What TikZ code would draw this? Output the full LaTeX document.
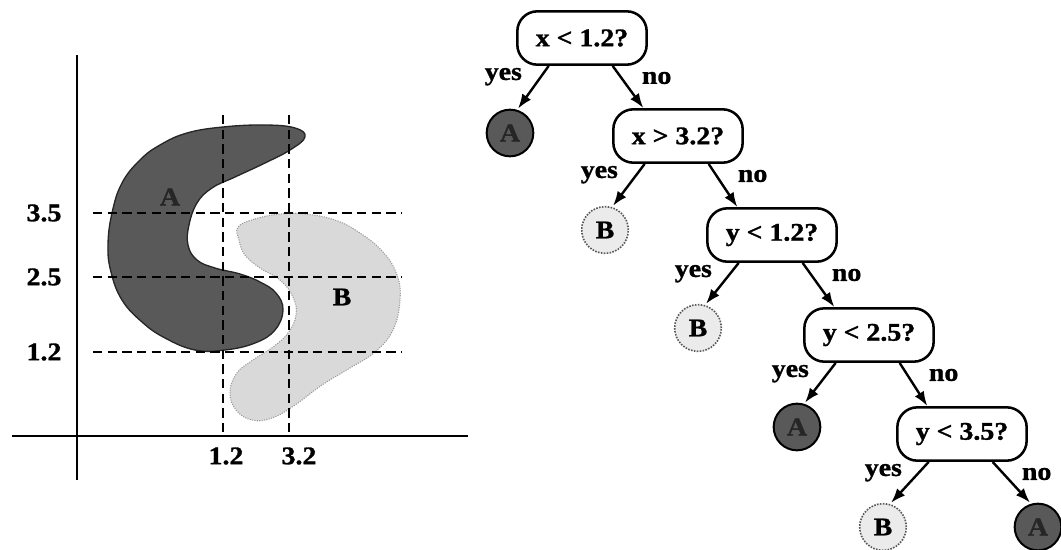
\documentclass[tikz,border=0pt]{standalone}
\usepackage{fontspec}
\setmainfont{Liberation Serif}[FakeStretch=1.1, FakeBold=1.2]
\usetikzlibrary{arrows.meta}
\begin{document}
\begin{tikzpicture}[x=0.75pt,y=-0.75pt,
  tfont/.style={font=\bfseries\fontsize{19}{22}\selectfont},
  tlab/.style={tfont, inner sep=0pt},
  qbox/.style={tfont, draw, line width=1.9pt, rounded corners=15pt, minimum width=97pt, minimum height=40pt, inner sep=0pt},
  leafA/.style={tfont, circle, draw=black, line width=1.5pt, fill=black!65, text=black!85, minimum size=35pt, inner sep=0pt},
  leafB/.style={tfont, circle, draw=black!65, densely dotted, line width=1.2pt, fill=black!8, minimum size=35pt, inner sep=0pt},
  arr/.style={-{Latex[length=11pt,width=8pt]}, line width=1.8pt},
  axis/.style={line width=1.5pt},
  cut/.style={line width=1.7pt, dash pattern=on 7pt off 4pt}
]
\useasboundingbox (0,0) rectangle (1061,550);

% ---------- left: regions ----------
\filldraw[fill=black!65, draw=black!85, line width=1pt]
  plot[smooth cycle, tension=0.7] coordinates {
  (305,137) (295,128) (265,125) (223,127) (187,133) (160,145) (140,160)
  (122,183) (112,213) (108,245) (111,272) (122,300) (142,322) (165,338)
  (195,350) (225,350) (255,343) (275,330) (283,310) (276,293) (260,282)
  (240,274) (215,268) (197,260) (188,245) (189,225) (197,203) (212,188)
  (235,177) (265,163) (290,150)};
\filldraw[fill=black!15, draw=black!40, densely dotted, line width=0.8pt]
  plot[smooth cycle, tension=0.7] coordinates {
  (238,227) (255,219) (280,214) (305,214) (335,220) (360,233) (383,252)
  (397,275) (400,300) (393,330) (375,352) (350,368) (322,385) (295,405)
  (272,418) (252,420) (236,410) (230,392) (237,373) (253,360) (273,347)
  (288,333) (296,315) (293,297) (280,280) (260,268) (245,255) (239,240)};
\node[tlab, text=black!85] (labA) at (170,197) {A};
\node[tlab] (labB) at (342,297) {B};

% ---------- cuts ----------
\coordinate (v1t) at (223,115); \coordinate (v1b) at (223,436);
\coordinate (v2t) at (289,115); \coordinate (v2b) at (289,436);
\coordinate (h1l) at (93,213);  \coordinate (h1r) at (402,213);
\coordinate (h2l) at (93,277);  \coordinate (h2r) at (402,277);
\coordinate (h3l) at (93,352);  \coordinate (h3r) at (402,352);
\draw[cut] (v1t) -- (v1b);
\draw[cut] (v2t) -- (v2b);
\draw[cut] (h1l) -- (h1r);
\draw[cut] (h2l) -- (h2r);
\draw[cut] (h3l) -- (h3r);

% ---------- axes ----------
\coordinate (yt) at (77,55);  \coordinate (yb) at (77,480);
\coordinate (xl) at (12,436); \coordinate (xr) at (468,436);
\draw[axis] (yt) -- (yb);
\draw[axis] (xl) -- (xr);

\node[tlab] (t35) at (44,213) {3.5};
\node[tlab] (t25) at (44,277) {2.5};
\node[tlab] (t12) at (44,352) {1.2};
\node[tlab] (tx12) at (226,456) {1.2};
\node[tlab] (tx32) at (299,456) {3.2};

% ---------- tree ----------
\node[qbox] (b1) at (582,38)  {x < 1.2?};
\node[qbox] (b2) at (678,136) {x > 3.2?};
\node[qbox] (b3) at (772,235) {y < 1.2?};
\node[qbox] (b4) at (869,335) {y < 2.5?};
\node[qbox] (b5) at (962,434) {y < 3.5?};

\node[leafA] (l1) at (510,133) {A};
\node[leafB] (l2) at (605,230) {B};
\node[leafB] (l3) at (698,328) {B};
\node[leafA] (l4) at (797,427) {A};
\node[leafB] (l5) at (883,527) {B};
\node[leafA] (l6) at (1038,527) {A};

\foreach \p/\y/\n in {b1/l1/b2, b2/l2/b3, b3/l3/b4, b4/l4/b5}{
  \draw[arr] ([xshift=-25pt]\p.south) -- ([xshift=6pt]\y.north);
  \draw[arr] ([xshift=23pt]\p.south) -- ([xshift=-26pt]\n.north);
}
\draw[arr] ([xshift=-25pt]b5.south) -- ([xshift=6pt]l5.north);
\draw[arr] ([xshift=23pt]b5.south) -- ([xshift=-6pt]l6.north);

\foreach \p in {b1,b2,b3,b4,b5}{
  \node[tlab] (\p yes) at ([xshift=-59pt,yshift=-29pt]\p.center) {yes};
  \node[tlab] (\p no)  at ([xshift=56pt,yshift=-30pt]\p.center) {no};
}
\end{tikzpicture}
\end{document}
